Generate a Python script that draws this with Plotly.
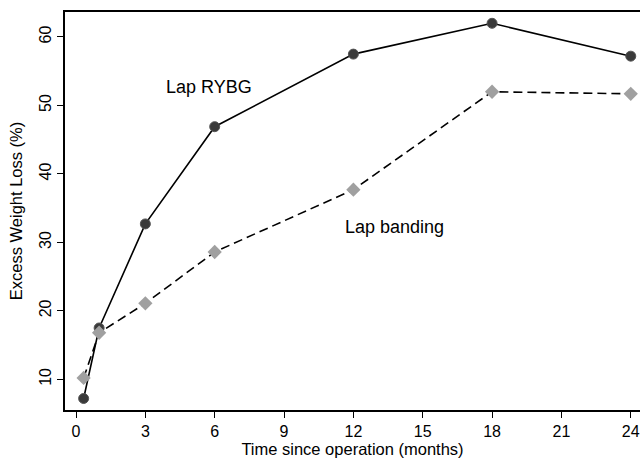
import plotly.graph_objects as go

months = [0.33, 1, 3, 6, 12, 18, 24]
rygb = [7.2, 17.5, 32.7, 46.9, 57.5, 62.0, 57.2]
banding = [10.2, 16.8, 21.1, 28.6, 37.7, 52.0, 51.7]
x_ticks = [0, 3, 6, 9, 12, 15, 18, 21, 24]
y_ticks = [10, 20, 30, 40, 50, 60]

font = "Liberation Sans, Arial, sans-serif"

fig = go.Figure()
fig.add_trace(go.Scatter(
    x=months, y=rygb, mode="lines+markers",
    line=dict(color="black", width=1.6),
    marker=dict(symbol="circle", size=10, color="#3a3a3a",
                line=dict(color="#555555", width=1)),
    showlegend=False, cliponaxis=False))
fig.add_trace(go.Scatter(
    x=months, y=banding, mode="lines+markers",
    line=dict(color="black", width=1.6, dash="9px,5px"),
    marker=dict(symbol="diamond", size=11, color="#a0a0a0",
                line=dict(width=0)),
    showlegend=False, cliponaxis=False))

fig.add_annotation(x=5.76, y=52.7, text="Lap RYBG", showarrow=False,
                   font=dict(family=font, size=18, color="black"))
fig.add_annotation(x=13.8, y=32.2, text="Lap banding", showarrow=False,
                   font=dict(family=font, size=18, color="black"))

fig.update_layout(
    width=640, height=463,
    margin=dict(l=65, r=0, t=12, b=53),
    paper_bgcolor="white", plot_bgcolor="white",
    font=dict(family=font, size=16, color="black"),
    xaxis=dict(range=[-0.476, 24.4], tickvals=x_ticks, showgrid=False,
               zeroline=False, showline=True, linecolor="black", linewidth=1.5,
               mirror=True, ticks="outside", ticklen=6, tickcolor="black",
               automargin=False,
               title=dict(text="Time since operation (months)", standoff=4,
                          font=dict(size=16.5))),
    yaxis=dict(range=[5.52, 63.65], tickvals=y_ticks, showgrid=False,
               zeroline=False, showline=True, linecolor="black", linewidth=1.5,
               ticks="outside", ticklen=6, tickcolor="black", tickangle=-90,
               automargin=False,
               title=dict(text="Excess Weight Loss (%)", standoff=10,
                          font=dict(size=16.5))),
)

fig.write_html("out.html",
               config={"displayModeBar": False},
               post_script="document.body.style.margin='0';document.body.style.overflow='hidden';")
